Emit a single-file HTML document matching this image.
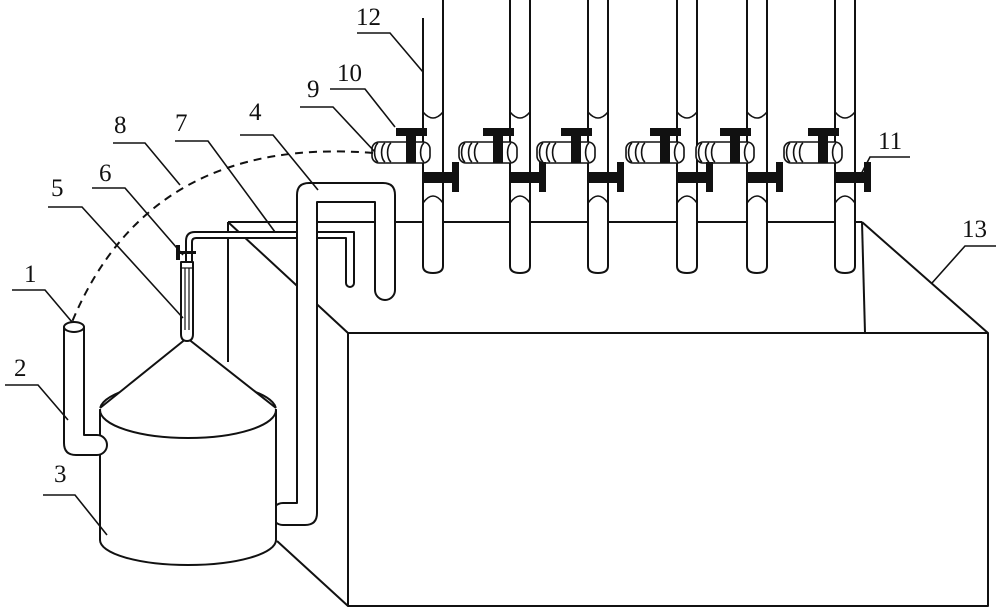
<!DOCTYPE html>
<html><head><meta charset="utf-8"><style>
html,body{margin:0;padding:0;background:#fff}
svg{display:block}
text{font-family:"Liberation Serif",serif;font-size:25px;fill:#111}
</style></head><body>
<svg width="1000" height="611" viewBox="0 0 1000 611" xmlns="http://www.w3.org/2000/svg">
<g stroke="#111" stroke-width="2" fill="none" stroke-linejoin="round">
<!-- tank -->
<line x1="228" y1="222" x2="862" y2="222"/>
<line x1="228" y1="222" x2="228" y2="362"/>
<line x1="228" y1="222" x2="348" y2="333"/>
<line x1="862" y1="222" x2="988" y2="333"/>
<line x1="862" y1="222" x2="865" y2="333"/>
<rect x="348" y="333" width="640" height="273" fill="#fff"/>
<line x1="277" y1="541" x2="348" y2="606"/>
<!-- pipe 7 -->
<path d="M186,262 L186,241 Q186,232 195,232 L354,232 L354,283 A4,4 0 0 1 346,283 L346,238 L196,238 Q192,238 192,242 L192,262" fill="#fff"/>
<!-- pipe 4 -->
<path d="M283,503 L297,503 L297,195 Q297,183 309,183 L383,183 Q395,183 395,195 L395,290 A10,10 0 0 1 375,290 L375,202 L317,202 L317,513 Q317,525 305,525 L283,525 A11,11 0 0 1 283,503 Z" fill="#fff"/>
<!-- vessel -->
<path d="M100,410 L100,540 A88,25 0 0 0 276,540 L276,410" fill="#fff"/>
<path d="M100,410 A88,28 0 0 1 276,410"/>
<polygon points="187,338 98,409 278,409" fill="#fff" stroke="none"/>
<path d="M100,410 A88,28 0 0 0 276,410"/>
<line x1="187" y1="338" x2="100" y2="408"/>
<line x1="187" y1="338" x2="276" y2="408"/>
<!-- tube 5 -->
<path d="M181,262 L181,334 Q181,341 187,341 Q193,341 193,334 L193,262 Z" fill="#fff"/>
<line x1="185" y1="268" x2="185" y2="330" stroke-width="1.2"/>
<line x1="189" y1="268" x2="189" y2="330" stroke-width="1.2"/>
<line x1="181" y1="268" x2="193" y2="268" stroke-width="1.2"/>
<!-- pipe 2 -->
<path d="M84,327 L84,435 L97,435 A10,10 0 0 1 97,455 L76,455 Q64,455 64,443 L64,327" fill="#fff"/>
<ellipse cx="74" cy="327" rx="10" ry="5" fill="#fff"/>
</g>
<!-- valve 6 -->
<rect x="176" y="245" width="4" height="15" fill="#111"/>
<rect x="176" y="251" width="20" height="3" fill="#111"/>
<!-- vertical pipes 12 -->
<g stroke="#111" stroke-width="2" fill="#fff">
<path d="M423,18 L423,266 Q423,273 433,273 Q443,273 443,266 L443,0"/>
<path d="M510,0 L510,266 Q510,273 520,273 Q530,273 530,266 L530,0"/>
<path d="M588,0 L588,266 Q588,273 598,273 Q608,273 608,266 L608,0"/>
<path d="M677,0 L677,266 Q677,273 687,273 Q697,273 697,266 L697,0"/>
<path d="M747,0 L747,266 Q747,273 757,273 Q767,273 767,266 L767,0"/>
<path d="M835,0 L835,266 Q835,273 845,273 Q855,273 855,266 L855,0"/>
</g>
<g id="valves" stroke="#111" stroke-width="1.6" fill="none">
<!-- joint arcs -->
<path d="M423,112 Q433,124 443,112 M423,203 Q433,189 443,203"/>
<path d="M510,112 Q520,124 530,112 M510,203 Q520,189 530,203"/>
<path d="M588,112 Q598,124 608,112 M588,203 Q598,189 608,203"/>
<path d="M677,112 Q687,124 697,112 M677,203 Q687,189 697,203"/>
<path d="M747,112 Q757,124 767,112 M747,203 Q757,189 767,203"/>
<path d="M835,112 Q845,124 855,112 M835,203 Q845,189 855,203"/>
</g>
<g stroke="#111" stroke-width="1.6" fill="#fff">
<g transform="translate(423,0)"><rect x="-51" y="142" width="58" height="21" rx="7"/><path d="M-45,143 A5,10 0 0 0 -45,162 M-38,143 A5,10 0 0 0 -38,162 M-32,143 A5,10 0 0 0 -32,162 M1,143 A5,10 0 0 0 1,162" fill="none"/></g>
<g transform="translate(510,0)"><rect x="-51" y="142" width="58" height="21" rx="7"/><path d="M-45,143 A5,10 0 0 0 -45,162 M-38,143 A5,10 0 0 0 -38,162 M-32,143 A5,10 0 0 0 -32,162 M1,143 A5,10 0 0 0 1,162" fill="none"/></g>
<g transform="translate(588,0)"><rect x="-51" y="142" width="58" height="21" rx="7"/><path d="M-45,143 A5,10 0 0 0 -45,162 M-38,143 A5,10 0 0 0 -38,162 M-32,143 A5,10 0 0 0 -32,162 M1,143 A5,10 0 0 0 1,162" fill="none"/></g>
<g transform="translate(677,0)"><rect x="-51" y="142" width="58" height="21" rx="7"/><path d="M-45,143 A5,10 0 0 0 -45,162 M-38,143 A5,10 0 0 0 -38,162 M-32,143 A5,10 0 0 0 -32,162 M1,143 A5,10 0 0 0 1,162" fill="none"/></g>
<g transform="translate(747,0)"><rect x="-51" y="142" width="58" height="21" rx="7"/><path d="M-45,143 A5,10 0 0 0 -45,162 M-38,143 A5,10 0 0 0 -38,162 M-32,143 A5,10 0 0 0 -32,162 M1,143 A5,10 0 0 0 1,162" fill="none"/></g>
<g transform="translate(835,0)"><rect x="-51" y="142" width="58" height="21" rx="7"/><path d="M-45,143 A5,10 0 0 0 -45,162 M-38,143 A5,10 0 0 0 -38,162 M-32,143 A5,10 0 0 0 -32,162 M1,143 A5,10 0 0 0 1,162" fill="none"/></g>
</g>
<g fill="#111">
<g transform="translate(423,0)"><rect x="-27" y="128" width="31" height="8"/><rect x="-17" y="135" width="10" height="28"/><rect x="0" y="172" width="30" height="11"/><rect x="29" y="162" width="7" height="30"/></g>
<g transform="translate(510,0)"><rect x="-27" y="128" width="31" height="8"/><rect x="-17" y="135" width="10" height="28"/><rect x="0" y="172" width="30" height="11"/><rect x="29" y="162" width="7" height="30"/></g>
<g transform="translate(588,0)"><rect x="-27" y="128" width="31" height="8"/><rect x="-17" y="135" width="10" height="28"/><rect x="0" y="172" width="30" height="11"/><rect x="29" y="162" width="7" height="30"/></g>
<g transform="translate(677,0)"><rect x="-27" y="128" width="31" height="8"/><rect x="-17" y="135" width="10" height="28"/><rect x="0" y="172" width="30" height="11"/><rect x="29" y="162" width="7" height="30"/></g>
<g transform="translate(747,0)"><rect x="-27" y="128" width="31" height="8"/><rect x="-17" y="135" width="10" height="28"/><rect x="0" y="172" width="30" height="11"/><rect x="29" y="162" width="7" height="30"/></g>
<g transform="translate(835,0)"><rect x="-27" y="128" width="31" height="8"/><rect x="-17" y="135" width="10" height="28"/><rect x="0" y="172" width="30" height="11"/><rect x="29" y="162" width="7" height="30"/></g>
</g>
<!-- dashed line 8 -->
<path d="M373,153 Q150,135 72,322" stroke="#111" stroke-width="2" fill="none" stroke-dasharray="8,6"/>
<!-- leaders -->
<g stroke="#111" stroke-width="1.6" fill="none">
<polyline points="357,33 390,33 423,72"/>
<polyline points="330,89 365,89 395,127"/>
<polyline points="300,107 333,107 375,152"/>
<polyline points="113,143 145,143 180,185"/>
<polyline points="175,141 208,141 275,232"/>
<polyline points="240,135 273,135 318,190"/>
<polyline points="92,188 125,188 183,255"/>
<polyline points="48,207 82,207 183,318"/>
<polyline points="12,290 45,290 72,322"/>
<polyline points="5,385 38,385 68,420"/>
<polyline points="43,495 75,495 107,535"/>
<polyline points="910,157 870,157 858,180"/>
<polyline points="996,246 965,246 932,283"/>
</g>
<text x="356" y="25">12</text>
<text x="337" y="81">10</text>
<text x="307" y="97">9</text>
<text x="114" y="133">8</text>
<text x="175" y="131">7</text>
<text x="249" y="120">4</text>
<text x="99" y="181">6</text>
<text x="51" y="196">5</text>
<text x="24" y="282">1</text>
<text x="14" y="376">2</text>
<text x="54" y="482">3</text>
<text x="878" y="149">11</text>
<text x="962" y="237">13</text>
</svg>
</body></html>
